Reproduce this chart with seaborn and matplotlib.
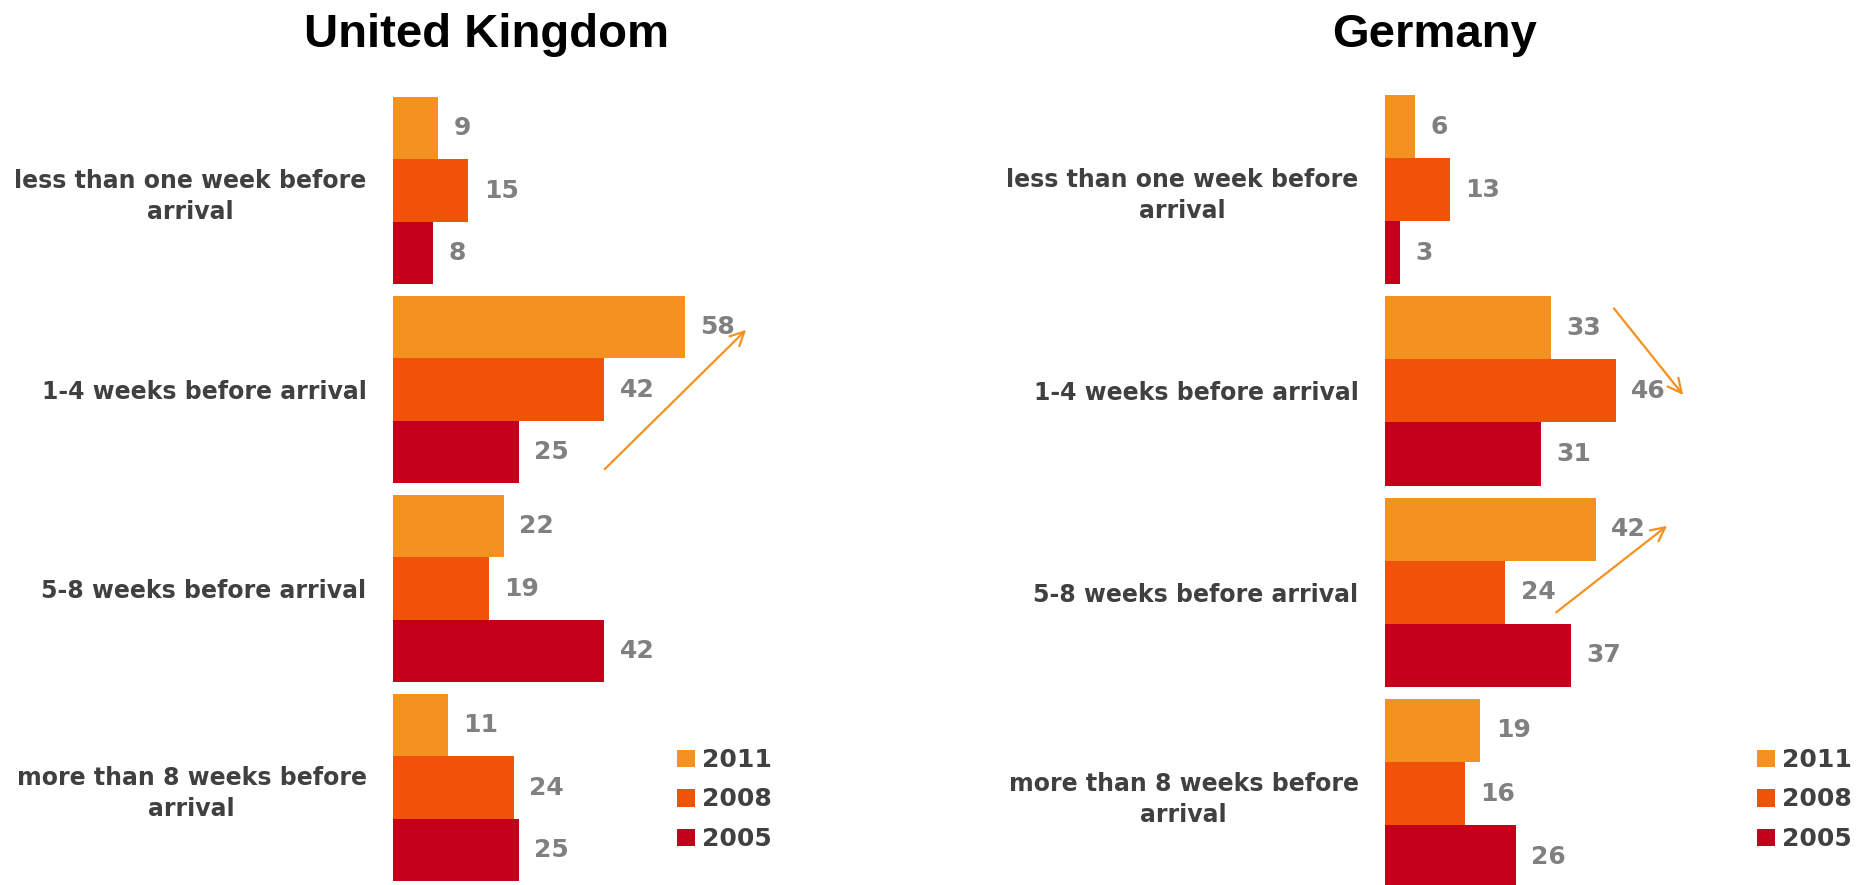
import numpy as np
import pandas as pd
import matplotlib
matplotlib.use("Agg")
import matplotlib.pyplot as plt
from matplotlib.patches import Patch
import seaborn as sns

# ---- data -------------------------------------------------------------
timings = [
    "less than one week before\narrival",
    "1-4 weeks before arrival",
    "5-8 weeks before arrival",
    "more than 8 weeks before\narrival",
]
years = ["2011", "2008", "2005"]

uk_2011 = [9, 58, 22, 11]
uk_2008 = [15, 42, 19, 24]
uk_2005 = [8, 25, 42, 25]

de_2011 = [6, 33, 42, 19]
de_2008 = [13, 46, 24, 16]
de_2005 = [3, 31, 37, 26]

countries = ["United Kingdom", "Germany"]

# ---- style ------------------------------------------------------------
palette = {"2011": "#F39220", "2008": "#EF5208", "2005": "#C4001A"}
label_grey = "#404040"
value_grey = "#808080"
arrow_color = "#F39220"

sns.set_theme(style="white")
plt.rcParams["font.family"] = ["DejaVu Sans"]

W, H = 1863, 885
fig = plt.figure(figsize=(W / 100, H / 100), dpi=100)


def long_frame(v2011, v2008, v2005):
    return pd.DataFrame({
        "timing": timings * 3,
        "year": np.repeat(years, len(timings)),
        "share": v2011 + v2008 + v2005,
    })


def draw_panel(df, left_px, right_px, px_per_unit, top_px, pitch_px,
               title, title_x, legend_x, arrows):
    # y-limits so that each category group starts at top_px + i * pitch_px
    group = 0.94
    y_top = -group / 2 - top_px / pitch_px
    y_bot = -group / 2 + (H - top_px) / pitch_px
    ax = fig.add_axes([left_px / W, 0, (right_px - left_px) / W, 1])
    sns.barplot(data=df, x="share", y="timing", hue="year", hue_order=years,
                order=timings, orient="h", width=group, palette=palette,
                saturation=1, legend=False, errorbar=None, ax=ax,
                edgecolor="none")
    ax.set_xlim(0, (right_px - left_px) / px_per_unit)
    ax.set_ylim(y_bot, y_top)
    for c in ax.containers:
        ax.bar_label(c, fmt="%g", padding=11, color=value_grey,
                     fontweight="bold", fontsize=18)
    ax.set_xlabel("")
    ax.set_ylabel("")
    ax.set_xticks([])
    ax.set_yticks(range(len(timings)))
    ax.set_yticklabels(timings)
    ax.tick_params(axis="y", length=0, pad=19, labelsize=17,
                   labelcolor=label_grey)
    for t in ax.get_yticklabels():
        t.set_fontweight("bold")
        t.set_multialignment("center")
        t.set_linespacing(1.35)
    for s in ax.spines.values():
        s.set_visible(False)
    ax.patch.set_alpha(0)

    for (x0, y0), (x1, y1) in arrows:
        ax.annotate("", xy=(x1, y1), xytext=(x0, y0),
                    arrowprops=dict(arrowstyle="->", color=arrow_color,
                                    lw=1.6, mutation_scale=25,
                                    shrinkA=0, shrinkB=0))

    fig.text(title_x / W, 1 - 47 / H, title, ha="center", va="baseline",
             fontsize=34, fontweight="bold", family="Liberation Sans",
             color="black")

    handles = [Patch(facecolor=palette[y], edgecolor="none", label=y)
               for y in years]
    fig.legend(handles=handles, loc="upper left",
               bbox_to_anchor=(legend_x / W, 1 - 748 / H),
               frameon=False, handlelength=0.7,
               handleheight=0.7, handletextpad=0.3, labelspacing=0.62,
               borderpad=0, borderaxespad=0,
               labelcolor=label_grey,
               prop=dict(weight="bold", size=18))
    return ax


draw_panel(long_frame(uk_2011, uk_2008, uk_2005),
           left_px=393, right_px=800, px_per_unit=5.03,
           top_px=97, pitch_px=199,
           title=countries[0], title_x=486.5, legend_x=677,
           arrows=[((42.1, 1.40), (70.2, 0.70))])

draw_panel(long_frame(de_2011, de_2008, de_2005),
           left_px=1385, right_px=1800, px_per_unit=5.02,
           top_px=95, pitch_px=201.3,
           title=countries[1], title_x=1435, legend_x=1757,
           arrows=[((45.6, 0.59), (59.4, 1.02)),
                   ((34.1, 2.10), (56.2, 1.67))])

fig.savefig("out.png", dpi=100)
